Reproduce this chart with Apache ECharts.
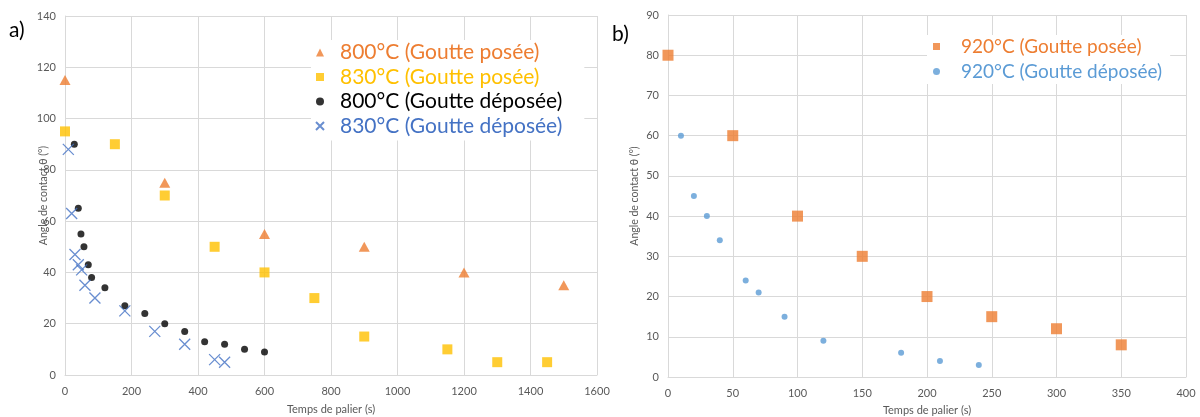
<!DOCTYPE html>
<html>
<head>
<meta charset="utf-8">
<script src="https://cdn.jsdelivr.net/npm/echarts@6/dist/echarts.min.js"></script>
<style>
  html, body { margin: 0; padding: 0; background: #fff; }
  #chart { width: 1200px; height: 417px; }
</style>
</head>
<body>
<div id="chart"></div>
<script>
// Panel a) : contact angle versus holding time (s)
const t800pose = [0, 300, 600, 900, 1200, 1500];
const a800pose = [115, 75, 55, 50, 40, 35];

const t830pose = [0, 150, 300, 450, 600, 750, 900, 1150, 1300, 1450];
const a830pose = [95, 90, 70, 50, 40, 30, 15, 10, 5, 5];

const t800dep = [28, 40, 48, 57, 70, 80, 120, 180, 240, 300, 360, 420, 480, 540, 600];
const a800dep = [90, 65, 55, 50, 43, 38, 34, 27, 24, 20, 17, 13, 12, 10, 9];

const t830dep = [10, 20, 30, 40, 50, 60, 90, 180, 270, 360, 450, 480];
const a830dep = [88, 63, 47, 43, 41, 35, 30, 25, 17, 12, 6, 5];

// Panel b) : 920 °C
const t920pose = [0, 50, 100, 150, 200, 250, 300, 350];
const a920pose = [80, 60, 40, 30, 20, 15, 12, 8];

const t920dep = [10, 20, 30, 40, 60, 70, 90, 120, 180, 210, 240];
const a920dep = [60, 45, 40, 34, 24, 21, 15, 9, 6, 4, 3];

const xTitle = 'Temps de palier (s)';
const yTitle = 'Angle de contact θ (°)';

const names = {
  p800: '800°C (Goutte posée)',
  p830: '830°C (Goutte posée)',
  d800: '800°C (Goutte déposée)',
  d830: '830°C (Goutte déposée)',
  p920: '920°C (Goutte posée)',
  d920: '920°C (Goutte déposée)'
};

const ORANGE = '#ED7D31';
const GOLD = '#FFC000';
const BLUE = '#4472C4';
const LBLUE = '#5B9BD5';
const GRID = '#D9D9D9';
const TXT = '#595959';
const FONT = 'Lato, "Open Sans", sans-serif';
const CROSS = 'path://M0,0L10,10M10,0L0,10';

const zip = (xs, ys) => xs.map((x, i) => [x, ys[i]]);

function xAx(gridIndex, max, interval, gap) {
  return {
    type: 'value', gridIndex, min: 0, max, interval,
    name: xTitle, nameLocation: 'middle', nameGap: gap, nameMoveOverlap: false,
    nameTextStyle: { color: TXT, fontSize: 11, fontFamily: FONT },
    axisLine: { show: true, lineStyle: { color: GRID, width: 1 } },
    axisTick: { show: false },
    axisLabel: { color: TXT, fontSize: 11, fontFamily: FONT, margin: 11, formatter: v => String(v) },
    splitLine: { show: true, lineStyle: { color: GRID, width: 1 } }
  };
}
function yAx(gridIndex, max, interval, gap) {
  return {
    type: 'value', gridIndex, min: 0, max, interval,
    name: yTitle, nameLocation: 'middle', nameGap: gap, nameRotate: 90, nameMoveOverlap: false,
    nameTextStyle: { color: TXT, fontSize: 10.5, fontFamily: FONT },
    axisLine: { show: true, lineStyle: { color: GRID, width: 1 } },
    axisTick: { show: false },
    axisLabel: { color: TXT, fontSize: 11, fontFamily: FONT, margin: 9, formatter: v => String(v) },
    splitLine: { show: true, lineStyle: { color: GRID, width: 1 } }
  };
}

const chart = echarts.init(document.getElementById('chart'), null, { renderer: 'canvas' });
chart.setOption({
  backgroundColor: '#fff',
  animation: false,
  textStyle: { fontFamily: FONT },
  grid: [
    { left: 65, top: 16, width: 532, height: 359, containLabel: false, outerBoundsMode: 'none' },
    { left: 668, top: 15, width: 518, height: 362, containLabel: false, outerBoundsMode: 'none' }
  ],
  xAxis: [xAx(0, 1600, 200, 29), xAx(1, 400, 50, 28)],
  yAxis: [yAx(0, 140, 20, 16), yAx(1, 90, 10, 28)],
  graphic: [
    { type: 'text', left: 9, top: 20, style: { text: 'a)', fontSize: 21, fill: '#000', fontFamily: FONT } },
    { type: 'text', left: 612, top: 24, style: { text: 'b)', fontSize: 21, fill: '#000', fontFamily: FONT } }
  ],
  legend: [
    {
      left: 311, top: 40, orient: 'vertical', itemGap: 3.5,
      backgroundColor: '#fff', padding: [2, 22, 4, 4],
      itemWidth: 8, itemHeight: 8,
      textStyle: { fontSize: 21, fontFamily: FONT, padding: [0, 0, 0, 11] },
      data: [
        { name: names.p800, icon: 'triangle', textStyle: { color: ORANGE } },
        { name: names.p830, icon: 'rect', textStyle: { color: GOLD } },
        { name: names.d800, icon: 'circle', textStyle: { color: '#000' } },
        { name: names.d830, textStyle: { color: BLUE } }
      ]
    },
    {
      left: 927, top: 35, orient: 'vertical', itemGap: 6,
      backgroundColor: '#fff', padding: [2, 8, 3, 6],
      itemWidth: 7, itemHeight: 7,
      textStyle: { fontSize: 19, fontFamily: FONT, padding: [0, 0, 0, 16] },
      data: [
        { name: names.p920, icon: 'rect', textStyle: { color: ORANGE } },
        { name: names.d920, icon: 'circle', textStyle: { color: LBLUE } }
      ]
    }
  ],
  series: [
    { type: 'scatter', name: names.p800, xAxisIndex: 0, yAxisIndex: 0, symbol: 'triangle', symbolSize: [11, 10],
      itemStyle: { color: ORANGE }, data: zip(t800pose, a800pose) },
    { type: 'scatter', name: names.p830, xAxisIndex: 0, yAxisIndex: 0, symbol: 'rect', symbolSize: 10,
      itemStyle: { color: GOLD }, data: zip(t830pose, a830pose) },
    { type: 'scatter', name: names.d800, xAxisIndex: 0, yAxisIndex: 0, symbol: 'circle', symbolSize: 7,
      itemStyle: { color: '#000' }, data: zip(t800dep, a800dep) },
    { type: 'scatter', name: names.d830, xAxisIndex: 0, yAxisIndex: 0, symbol: CROSS, symbolSize: 11,
      itemStyle: { color: 'rgba(0,0,0,0)', borderColor: BLUE, borderWidth: 1.3 }, data: zip(t830dep, a830dep) },
    { type: 'scatter', name: names.p920, xAxisIndex: 1, yAxisIndex: 1, symbol: 'rect', symbolSize: 11,
      itemStyle: { color: ORANGE }, data: zip(t920pose, a920pose) },
    { type: 'scatter', name: names.d920, xAxisIndex: 1, yAxisIndex: 1, symbol: 'circle', symbolSize: 6,
      itemStyle: { color: LBLUE }, data: zip(t920dep, a920dep) }
  ]
});
</script>
</body>
</html>
